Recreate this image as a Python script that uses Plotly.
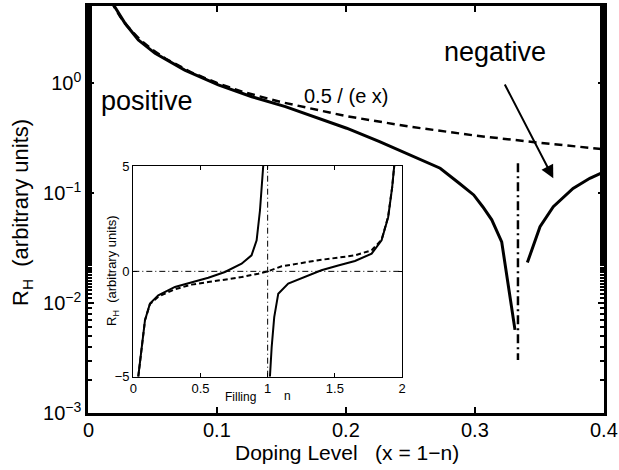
import math
import plotly.graph_objects as go

# ---------------- data ----------------
# main panel: |R_H| vs doping level x
main_x_pos = [0.018, 0.0204, 0.0287, 0.039, 0.052, 0.075, 0.101, 0.127, 0.153, 0.175,
              0.2005, 0.226, 0.252, 0.273, 0.288, 0.299, 0.306, 0.313, 0.3207, 0.331]
main_rh_pos = [5.9, 5.0, 3.49, 2.46, 1.86, 1.31, 0.96, 0.75, 0.61, 0.494,
               0.388, 0.293, 0.214, 0.168, 0.122, 0.096, 0.075, 0.057, 0.036, 0.0057]
main_x_neg = [0.3406, 0.3504, 0.3607, 0.376, 0.389, 0.4]
main_rh_neg = [0.0233, 0.0494, 0.075, 0.110, 0.136, 0.156]
main_x_fit = [0.018, 0.02, 0.025, 0.03, 0.04, 0.05, 0.06, 0.08, 0.1, 0.12, 0.15,
              0.2, 0.25, 0.3, 0.35, 0.4]
main_rh_fit = [5.56, 5.0, 4.0, 3.33, 2.5, 2.0, 1.67, 1.25, 1.0, 0.83, 0.67,
               0.5, 0.4, 0.333, 0.286, 0.25]
sing_x = [0.3333, 0.3333]
sing_y = [0.186, 0.00303]
arrow_tail = (0.3225, 1.0)
arrow_head = (0.3607, 0.136)

# inset: R_H vs filling n
in_n1 = [0.037, 0.062, 0.087, 0.124, 0.186, 0.31, 0.434, 0.558, 0.682, 0.806,
         0.88, 0.918, 0.943, 0.96, 0.967]
in_v1 = [-5, -3.59, -2.32, -1.53, -1.14, -0.74, -0.51, -0.30, -0.03, 0.36,
         0.76, 1.47, 2.9, 4.3, 5]
in_n2 = [1.017, 1.03, 1.049, 1.079, 1.153, 1.278, 1.40, 1.525, 1.65, 1.774,
         1.848, 1.897, 1.927, 1.942]
in_v2 = [-5, -3.59, -2.17, -1.06, -0.58, -0.27, 0.05, 0.28, 0.49, 0.84,
         1.47, 2.57, 4.0, 5]
in_nd = [0.037, 0.062, 0.087, 0.124, 0.186, 0.31, 0.434, 0.558, 0.682, 0.806,
         0.93, 1.0, 1.104, 1.278, 1.40, 1.525, 1.65, 1.774, 1.848, 1.897, 1.927, 1.942]
in_vd = [-5, -3.59, -2.32, -1.55, -1.2, -0.85, -0.63, -0.51, -0.39, -0.27,
         -0.11, 0, 0.24, 0.44, 0.55, 0.65, 0.76, 1.0, 1.5, 2.6, 4.0, 5]
in_hline_x = [0, 2]
in_hline_y = [0, 0]
in_vline_x = [1, 1]
in_vline_y = [-5, 5]

x_ticks = [0, 0.1, 0.2, 0.3, 0.4]
x_ticktext = ["0", "0.1", "0.2", "0.3", "0.4"]
y_ticks = [1e-3, 1e-2, 1e-1, 1]
y_ticktext = ["10<sup>\u22123</sup>", "10<sup>\u22122</sup>", "10<sup>\u22121</sup>", "10<sup>0</sup>"]
in_x_ticks = [0, 0.5, 1, 1.5, 2]
in_x_ticktext = ["0", "0.5", "1", "1.5", "2"]
in_y_ticks = [-5, 0, 5]
in_y_ticktext = ["\u22125", "0", "5"]

# ---------------- layout helpers ----------------
W, H = 619, 470
L, R, T, B = 88, 604, 6, 413


def px(xp):
    return (xp - L) / (R - L)


def py(yp):
    return (B - yp) / (B - T)


FONT = "Liberation Sans, Arial, Helvetica, sans-serif"
BLK = "black"

fig = go.Figure()
fig.add_trace(go.Scatter(x=main_x_fit, y=main_rh_fit, mode="lines",
                         line=dict(color=BLK, width=2.5, dash="8px,5px"),
                         xaxis="x", yaxis="y", hoverinfo="skip"))
fig.add_trace(go.Scatter(x=main_x_pos, y=main_rh_pos, mode="lines",
                         line=dict(color=BLK, width=3), xaxis="x", yaxis="y", hoverinfo="skip"))
fig.add_trace(go.Scatter(x=main_x_neg, y=main_rh_neg, mode="lines",
                         line=dict(color=BLK, width=3), xaxis="x", yaxis="y", hoverinfo="skip"))
fig.add_trace(go.Scatter(x=sing_x, y=sing_y, mode="lines",
                         line=dict(color=BLK, width=2.5, dash="9px,4px,2px,4px"),
                         xaxis="x", yaxis="y", hoverinfo="skip"))

# inset
fig.add_trace(go.Scatter(x=in_hline_x, y=in_hline_y, mode="lines",
                         line=dict(color=BLK, width=1, dash="6px,3px,1px,3px"),
                         xaxis="x2", yaxis="y2", hoverinfo="skip"))
fig.add_trace(go.Scatter(x=in_vline_x, y=in_vline_y, mode="lines",
                         line=dict(color=BLK, width=1, dash="6px,3px,1px,3px"),
                         xaxis="x2", yaxis="y2", hoverinfo="skip"))
fig.add_trace(go.Scatter(x=in_nd, y=in_vd, mode="lines",
                         line=dict(color=BLK, width=2, dash="5px,3px"),
                         xaxis="x2", yaxis="y2", hoverinfo="skip"))
fig.add_trace(go.Scatter(x=in_n1, y=in_v1, mode="lines",
                         line=dict(color=BLK, width=2), xaxis="x2", yaxis="y2", hoverinfo="skip"))
fig.add_trace(go.Scatter(x=in_n2, y=in_v2, mode="lines",
                         line=dict(color=BLK, width=2), xaxis="x2", yaxis="y2", hoverinfo="skip"))

minor_vals = [m * 10 ** d for d in (-3, -2, -1, 0) for m in range(2, 10) if m * 10 ** d < 5.1]
# hidden trace that carries the right-hand minor-tick axis
fig.add_trace(go.Scatter(x=[0.2], y=[0.01], xaxis="x", yaxis="y3",
                         mode="markers", marker=dict(opacity=0), hoverinfo="skip"))

fig.update_layout(
    width=W, height=H,
    margin=dict(l=L, r=W - R, t=T, b=H - B, autoexpand=False),
    paper_bgcolor="white", plot_bgcolor="white",
    showlegend=False,
    font=dict(family=FONT, color=BLK),
    xaxis=dict(domain=[0, 1], anchor="y", range=[0, 0.4],
               tickmode="array", tickvals=x_ticks, showticklabels=False,
               ticks="inside", ticklen=6, tickwidth=2, tickcolor=BLK,
               showline=True, linewidth=2.5, linecolor=BLK, mirror="ticks",
               showgrid=False, zeroline=False),
    yaxis=dict(domain=[0, 1], anchor="x", type="log", range=[-3, 0.7],
               tickmode="array", tickvals=y_ticks, ticktext=y_ticktext,
               ticks="inside", ticklen=6, tickwidth=2, tickcolor=BLK,
               minor=dict(ticks="inside", ticklen=4, tickwidth=1.5, tickcolor=BLK,
                          showgrid=False),
               showline=True, linewidth=2.5, linecolor=BLK, mirror="ticks",
               showgrid=False, zeroline=False, tickfont=dict(size=20)),
    yaxis3=dict(overlaying="y", anchor="x", side="right", type="log", range=[-3, 0.7],
                tickmode="array", tickvals=minor_vals, showticklabels=False,
                ticks="inside", ticklen=4, tickwidth=1.5, tickcolor=BLK,
                showline=True, linewidth=2.5, linecolor=BLK,
                showgrid=False, zeroline=False),
    xaxis2=dict(domain=[px(133.3), px(402)], anchor="y2", range=[0, 2],
                tickmode="array", tickvals=in_x_ticks, ticktext=in_x_ticktext,
                ticks="inside", ticklen=4, tickwidth=1, tickcolor=BLK,
                showline=True, linewidth=1.2, linecolor=BLK, mirror="ticks",
                showgrid=False, zeroline=False, tickfont=dict(size=13)),
    yaxis2=dict(domain=[py(376.7), py(166)], anchor="x2", range=[-5, 5],
                tickmode="array", tickvals=in_y_ticks, ticktext=in_y_ticktext,
                ticks="inside", ticklen=4, tickwidth=1, tickcolor=BLK,
                showline=True, linewidth=1.2, linecolor=BLK, mirror="ticks",
                showgrid=False, zeroline=False, tickfont=dict(size=13)),
)

NB = "\u00a0"
annotations = [
    dict(text="positive", x=px(147), y=py(101), font=dict(size=27)),
    dict(text="negative", x=px(495), y=py(52), font=dict(size=27)),
    dict(text="0.5 / (e x)", x=px(346), y=py(96), font=dict(size=20)),
    dict(text="R<sub>H</sub>" + NB * 2 + "(arbitrary units)", x=px(22), y=py(213),
         textangle=-90, font=dict(size=22)),
    dict(text="Doping Level" + NB * 3 + "(x = 1\u2212n)", x=px(347), y=py(453),
         font=dict(size=21)),
    dict(text="R<sub>H</sub>" + NB * 2 + "(arbitrary units)", x=px(112), y=py(271),
         textangle=-90, font=dict(size=13)),
    dict(text="Filling", x=px(240), y=py(397), font=dict(size=12)),
    dict(text="n", x=px(287), y=py(396), font=dict(size=12)),
]
for a in annotations:
    a.update(xref="paper", yref="paper", showarrow=False,
             xanchor="center", yanchor="middle")
    fig.add_annotation(**a)

# main x tick labels (placed just below the axis, as in the reference)
for tv, tt in zip(x_ticks, x_ticktext):
    fig.add_annotation(x=tv, y=py(430), xref="x", yref="paper", text=tt,
                       showarrow=False, xanchor="center", yanchor="middle",
                       font=dict(size=20))

fig.add_annotation(x=arrow_head[0], y=math.log10(arrow_head[1]),
                   ax=arrow_tail[0], ay=math.log10(arrow_tail[1]),
                   xref="x", yref="y", axref="x", ayref="y",
                   text="", showarrow=True, arrowhead=2, arrowsize=1.3,
                   arrowwidth=2, arrowcolor=BLK, standoff=0)

fig.write_html("out.html")
